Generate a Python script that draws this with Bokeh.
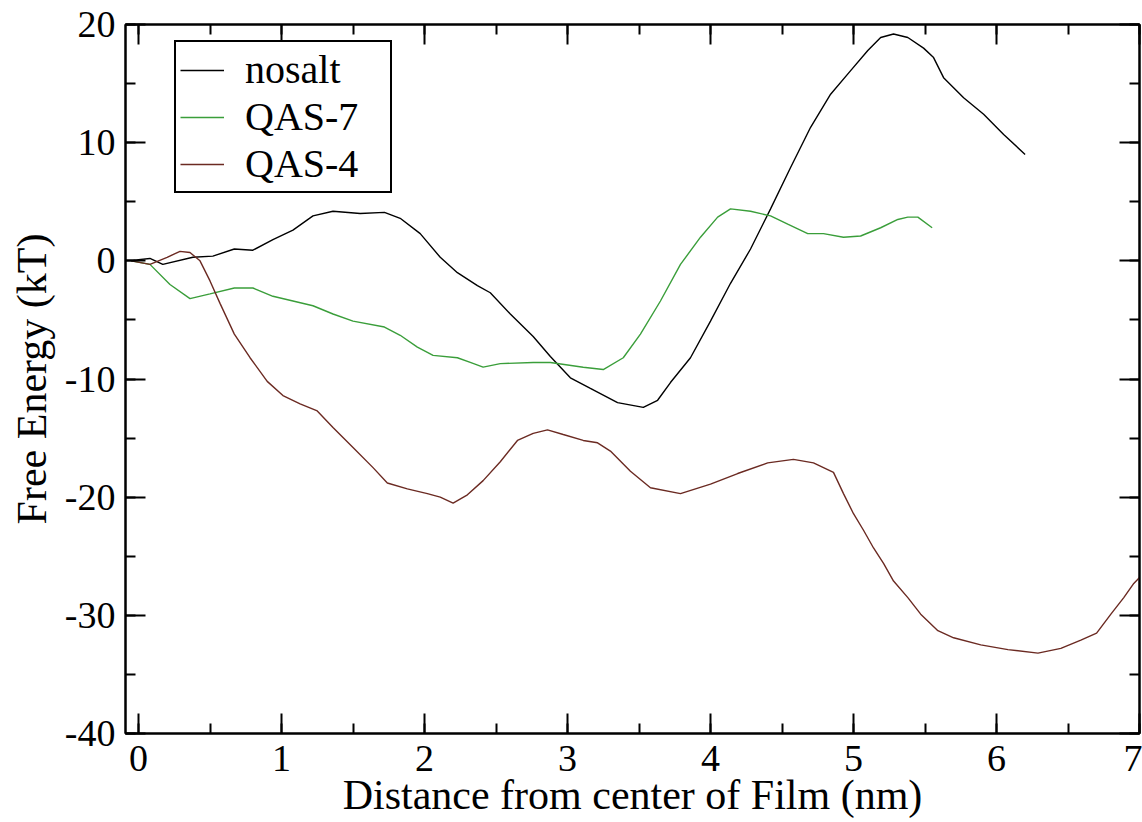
from bokeh.plotting import figure
from bokeh.models import (Range1d, LinearAxis, SingleIntervalTicker, Legend, LegendItem,
                          CustomJSTickFormatter)
from bokeh.embed import file_html
from bokeh.resources import INLINE

# ---- data ----
nosalt_x = [-0.05, 0.0, 0.08, 0.17, 0.38, 0.52, 0.67, 0.80, 0.94, 1.08,
            1.22, 1.36, 1.55, 1.72, 1.83, 1.97, 2.11, 2.23, 2.37, 2.46,
            2.60, 2.76, 2.88, 3.02, 3.16, 3.35, 3.53, 3.63, 3.72, 3.86,
            4.00, 4.14, 4.28, 4.42, 4.56, 4.70, 4.84, 4.98, 5.10, 5.19,
            5.28, 5.38, 5.49, 5.56, 5.63, 5.77, 5.91, 6.05, 6.20]
nosalt_y = [0.0, 0.1, 0.2, -0.3, 0.3, 0.4, 1.0, 0.9, 1.8, 2.6,
            3.8, 4.2, 4.0, 4.1, 3.6, 2.3, 0.3, -1.0, -2.1, -2.7,
            -4.5, -6.4, -8.1, -9.9, -10.8, -12.0, -12.4, -11.8, -10.3, -8.2,
            -5.1, -1.9, 1.0, 4.4, 7.9, 11.3, 14.1, 16.1, 17.8, 18.9,
            19.2, 18.9, 18.0, 17.2, 15.5, 13.8, 12.4, 10.7, 9.0]

qas7_x = [-0.05, 0.08, 0.22, 0.36, 0.50, 0.67, 0.80, 0.94, 1.08, 1.22,
          1.36, 1.50, 1.72, 1.83, 1.95, 2.06, 2.23, 2.32, 2.41, 2.53,
          2.76, 2.88, 3.11, 3.25, 3.39, 3.51, 3.65, 3.79, 3.93, 4.05,
          4.14, 4.28, 4.42, 4.54, 4.68, 4.79, 4.93, 5.05, 5.19, 5.31,
          5.38, 5.45, 5.55]
qas7_y = [0.0, -0.3, -2.0, -3.2, -2.8, -2.3, -2.3, -3.0, -3.4, -3.8,
          -4.5, -5.1, -5.6, -6.3, -7.3, -8.0, -8.2, -8.6, -9.0, -8.7,
          -8.6, -8.6, -9.0, -9.2, -8.2, -6.2, -3.4, -0.3, 2.0, 3.7,
          4.4, 4.2, 3.8, 3.1, 2.3, 2.3, 2.0, 2.1, 2.8, 3.5,
          3.7, 3.7, 2.8]

qas4_x = [-0.05, 0.08, 0.20, 0.29, 0.36, 0.43, 0.50, 0.57, 0.67, 0.78,
          0.90, 1.01, 1.13, 1.25, 1.36, 1.50, 1.64, 1.74, 1.88, 2.02,
          2.11, 2.20, 2.30, 2.41, 2.53, 2.65, 2.76, 2.86, 2.97, 3.11,
          3.21, 3.30, 3.44, 3.58, 3.79, 4.00, 4.19, 4.40, 4.58, 4.72,
          4.86, 4.93, 5.00, 5.07, 5.14, 5.21, 5.28, 5.38, 5.47, 5.59,
          5.70, 5.89, 6.08, 6.29, 6.45, 6.59, 6.70, 6.80, 6.89, 6.96,
          7.0]
qas4_y = [0.0, -0.3, 0.3, 0.8, 0.7, 0.0, -1.7, -3.6, -6.2, -8.2,
          -10.2, -11.4, -12.1, -12.7, -14.1, -15.8, -17.5, -18.8, -19.3, -19.7,
          -20.0, -20.5, -19.8, -18.6, -17.0, -15.2, -14.6, -14.3, -14.7, -15.2,
          -15.4, -16.1, -17.8, -19.2, -19.7, -18.9, -18.0, -17.1, -16.8, -17.1,
          -17.9, -19.7, -21.4, -22.8, -24.3, -25.6, -27.1, -28.5, -29.9, -31.3,
          -31.9, -32.5, -32.9, -33.2, -32.8, -32.1, -31.5, -29.9, -28.5, -27.3,
          -26.8]

series_names = ["nosalt", "QAS-7", "QAS-4"]
series_colors = ["#000000", "#3a9e3a", "#6b2a22"]

x_title = "Distance from center of Film (nm)"
y_title = "Free Energy (kT)"

FONT = "Liberation Serif"

p = figure(width=1142, height=822, output_backend="svg", toolbar_location=None,
           x_range=Range1d(-0.091, 7.0), y_range=Range1d(-40, 20),
           min_border_left=125, min_border_right=3, min_border_top=24,
           min_border_bottom=89)
p.grid.visible = False
p.background_fill_color = "white"
p.border_fill_color = "white"
p.outline_line_color = "black"
p.outline_line_width = 2

xt = SingleIntervalTicker(interval=1, num_minor_ticks=2)
yt = SingleIntervalTicker(interval=10, num_minor_ticks=2)

bottom = p.below[0]
left = p.left[0]
bottom.ticker = xt
left.ticker = yt
bottom.formatter = CustomJSTickFormatter(code="return String(tick);")
left.formatter = CustomJSTickFormatter(code="return String(tick);")

blank = "return '';"
top = LinearAxis(ticker=xt, formatter=CustomJSTickFormatter(code=blank), major_label_standoff=0)
right = LinearAxis(ticker=yt, formatter=CustomJSTickFormatter(code=blank), major_label_standoff=0)
p.add_layout(top, "above")
p.add_layout(right, "right")

for ax in [bottom, left, top, right]:
    ax.major_tick_in = 20
    ax.major_tick_out = 0
    ax.minor_tick_in = 10
    ax.minor_tick_out = 0
    ax.axis_line_width = 2
    ax.major_tick_line_width = 2
    ax.minor_tick_line_width = 2
    ax.axis_line_color = "black"
    ax.major_tick_line_color = "black"
    ax.minor_tick_line_color = "black"

for ax in [bottom, left]:
    ax.major_label_text_font = FONT
    ax.major_label_text_font_size = "38px"
    ax.major_label_text_color = "black"
    ax.axis_label_text_font = FONT
    ax.axis_label_text_font_size = "42px"
    ax.axis_label_text_font_style = "normal"
    ax.axis_label_text_color = "black"

bottom.axis_label = x_title
left.axis_label = y_title
bottom.major_label_standoff = 12
bottom.axis_label_standoff = -2
left.major_label_standoff = 10
left.axis_label_standoff = 7

renderers = []
for xs, ys, c in zip([nosalt_x, qas7_x, qas4_x], [nosalt_y, qas7_y, qas4_y], series_colors):
    r = p.line(xs, ys, line_color=c, line_width=1.4)
    renderers.append(r)

legend = Legend(items=[LegendItem(label=n, renderers=[r]) for n, r in zip(series_names, renderers)],
                location=(49, 540), margin=0, padding=4,
                spacing=0, glyph_width=44, glyph_height=44, label_height=44,
                label_width=141, label_standoff=21,
                label_text_font=FONT, label_text_font_size="40px",
                label_text_color="black",
                border_line_color="black", border_line_width=2, border_line_alpha=1.0,
                background_fill_color="white", background_fill_alpha=1.0)
p.add_layout(legend)

open("out.html", "w").write(file_html(p, INLINE))
